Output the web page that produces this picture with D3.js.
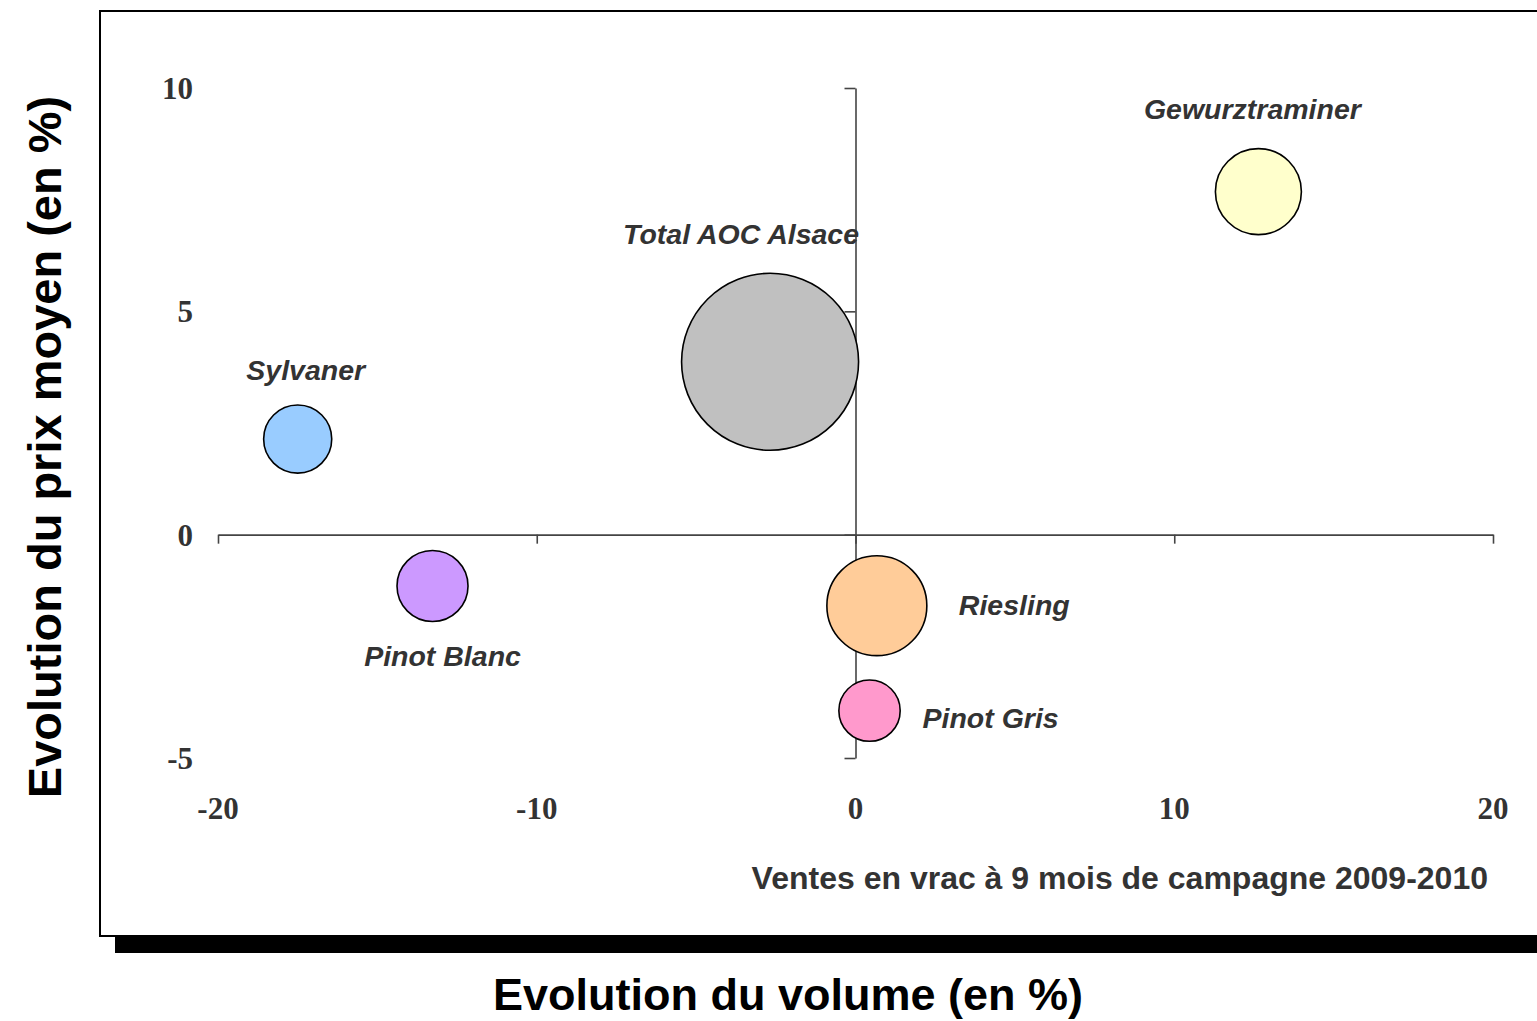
<!DOCTYPE html>
<html>
<head>
<meta charset="utf-8">
<script src="https://cdn.jsdelivr.net/npm/d3@7"></script>
<style>
  body { margin: 0; background: #fff; }
  svg { display: block; }
</style>
</head>
<body>
<svg id="chart" width="1537" height="1021"></svg>
<script>
// Bulk sales after 9 months of the 2009-2010 campaign, by grape variety
const varieties    = ["Total AOC Alsace", "Gewurztraminer", "Sylvaner", "Pinot Blanc", "Riesling", "Pinot Gris"];
const volumeChange = [-2.68, 12.64, -17.5, -13.27, 0.67, 0.44];   // % change in volume
const priceChange  = [3.87, 7.68, 2.14, -1.15, -1.59, -3.94];     // % change in average price
const bubbleSize   = [100, 23.6, 14.8, 16.1, 31.9, 12.0];         // relative sales weight
const xTickValues  = [-20, -10, 0, 10, 20];
const yTickValues  = [-5, 0, 5, 10];

// Presentation
const fills = ["#C0C0C0", "#FFFFCC", "#99CCFF", "#CC99FF", "#FFCC99", "#FF99CC"];
const labelPlacement = {
  "Total AOC Alsace": { dx: -29, dy: -118, anchor: "middle" },
  "Gewurztraminer":   { dx: -6,  dy: -73,  anchor: "middle" },
  "Sylvaner":         { dx: 8,   dy: -59,  anchor: "middle" },
  "Pinot Blanc":      { dx: 10,  dy: 80,   anchor: "middle" },
  "Riesling":         { dx: 82,  dy: 9,    anchor: "start" },
  "Pinot Gris":       { dx: 53,  dy: 17,   anchor: "start" }
};

const svg = d3.select("#chart");

// Chart frame with its drop shadow
svg.append("rect")
  .attr("x", 115).attr("y", 937).attr("width", 1440).attr("height", 16)
  .attr("fill", "#000");
svg.append("rect")
  .attr("x", 100).attr("y", 11).attr("width", 1460).attr("height", 925)
  .attr("fill", "#fff").attr("stroke", "#000").attr("stroke-width", 2);

const x = d3.scaleLinear().domain([-20, 20]).range([218, 1493]);
const y = d3.scaleLinear().domain([-5, 10]).range([758, 88]);
const r = d3.scaleSqrt().domain([0, 100]).range([0, 88.5]);

const axisColor = "#444";

// Horizontal axis crossing at price change = 0
const gx = svg.append("g")
  .attr("transform", `translate(0,${y(0)})`)
  .call(d3.axisBottom(x).tickValues(xTickValues).tickSize(9).tickSizeOuter(0).tickFormat(""));
// Vertical axis crossing at volume change = 0
const gy = svg.append("g")
  .attr("transform", `translate(${x(0)},0)`)
  .call(d3.axisLeft(y).tickValues(yTickValues).tickSize(11).tickSizeOuter(0).tickFormat(""));
[gx, gy].forEach(g => {
  g.selectAll("path, line").attr("stroke", axisColor).attr("stroke-width", 1.6);
});

// Tick labels placed at the low edge of the plot
const tickFont = "'Liberation Serif', 'Times New Roman', serif";
svg.append("g").selectAll("text")
  .data(xTickValues).join("text")
  .attr("x", d => x(d)).attr("y", 819)
  .attr("text-anchor", "middle")
  .attr("font-family", tickFont).attr("font-weight", "bold").attr("font-size", 31)
  .attr("fill", "#333")
  .text(d => d);
svg.append("g").selectAll("text")
  .data(yTickValues).join("text")
  .attr("x", 193).attr("y", d => y(d))
  .attr("dy", "0.35em")
  .attr("text-anchor", "end")
  .attr("font-family", tickFont).attr("font-weight", "bold").attr("font-size", 31)
  .attr("fill", "#333")
  .text(d => d);

// Bubbles
const points = varieties.map((name, i) => ({
  name, vx: volumeChange[i], vy: priceChange[i], size: bubbleSize[i], fill: fills[i]
}));

svg.append("g").selectAll("circle")
  .data(points).join("circle")
  .attr("cx", d => x(d.vx)).attr("cy", d => y(d.vy))
  .attr("r", d => r(d.size))
  .attr("fill", d => d.fill)
  .attr("stroke", "#000").attr("stroke-width", 1.6);

// Variety labels
const sans = "'Liberation Sans', Arial, sans-serif";
svg.append("g").selectAll("text")
  .data(points).join("text")
  .attr("x", d => x(d.vx) + labelPlacement[d.name].dx)
  .attr("y", d => y(d.vy) + labelPlacement[d.name].dy)
  .attr("text-anchor", d => labelPlacement[d.name].anchor)
  .attr("font-family", sans).attr("font-weight", "bold").attr("font-style", "italic")
  .attr("font-size", 28.5).attr("fill", "#333")
  .text(d => d.name);

// Note
svg.append("text")
  .attr("x", 1488).attr("y", 889)
  .attr("text-anchor", "end")
  .attr("font-family", sans).attr("font-weight", "bold").attr("font-size", 32)
  .attr("fill", "#333")
  .text("Ventes en vrac à 9 mois de campagne 2009-2010");

// Axis titles
svg.append("text")
  .attr("x", 788).attr("y", 1010)
  .attr("text-anchor", "middle")
  .attr("font-family", sans).attr("font-weight", "bold").attr("font-size", 45)
  .attr("fill", "#000")
  .text("Evolution du volume (en %)");
svg.append("text")
  .attr("transform", "translate(61,447) rotate(-90)")
  .attr("text-anchor", "middle")
  .attr("font-family", sans).attr("font-weight", "bold").attr("font-size", 47)
  .attr("fill", "#000")
  .text("Evolution du prix moyen (en %)");
</script>
</body>
</html>
